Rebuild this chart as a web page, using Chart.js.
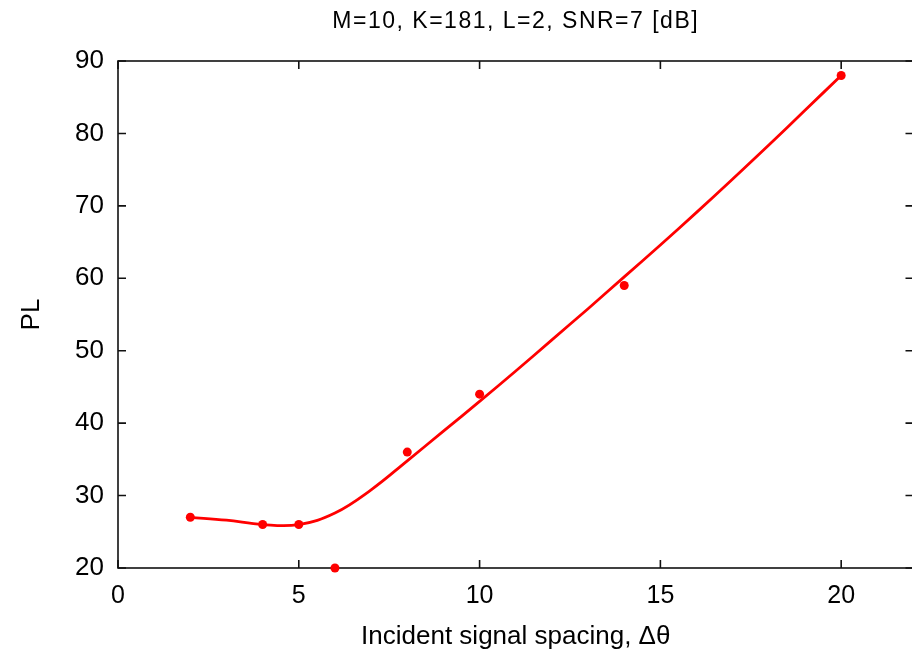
<!DOCTYPE html>
<html>
<head>
<meta charset="utf-8">
<script src="https://cdn.jsdelivr.net/npm/chart.js@4/dist/chart.umd.min.js"></script>
<style>
  html, body { margin: 0; padding: 0; background: #fff; overflow: hidden; }
  #wrap { width: 918px; height: 657px; }
</style>
</head>
<body>
<div id="wrap"><canvas id="plChart" width="918" height="657"></canvas></div>
<script>
// Measured points
const spacing = [2, 4, 5, 6, 8, 10, 14, 20];
const plValues = [27, 26, 26, 20, 36, 44, 59, 88];

// Smoothed curve
const fitX = [2, 3, 4, 5, 6, 7, 8, 9, 10, 11, 12, 13, 14, 15, 16, 17, 18, 19, 20];
const fitY = [27.0, 26.6, 26.0, 26.0, 27.6, 30.8, 34.8, 38.9, 43.0, 47.2, 51.5, 55.8, 60.2, 64.6, 69.1, 73.7, 78.4, 83.2, 88.0];

// Tick labels
const xTicks = [0, 5, 10, 15, 20];
const yTicks = [20, 30, 40, 50, 60, 70, 80, 90];

const titleText = 'M=10, K=181, L=2, SNR=7 [dB]';
const fontFamily = '"Liberation Sans", Arial, Helvetica, sans-serif';

// gnuplot style frame with inward ticks on all four sides
const framePlugin = {
    id: 'frame',
    beforeDatasetsDraw(chart) {
        const ctx = chart.ctx;
        const a = chart.chartArea;
        const tl = 8;
        ctx.save();
        ctx.strokeStyle = '#111';
        ctx.lineWidth = 1.6;
        ctx.strokeRect(a.left, a.top, a.right - a.left, a.bottom - a.top);
        ctx.beginPath();
        chart.scales.x.ticks.forEach(t => {
            const px = chart.scales.x.getPixelForValue(t.value);
            ctx.moveTo(px, a.bottom); ctx.lineTo(px, a.bottom - tl);
            ctx.moveTo(px, a.top); ctx.lineTo(px, a.top + tl);
        });
        chart.scales.y.ticks.forEach(t => {
            const py = chart.scales.y.getPixelForValue(t.value);
            ctx.moveTo(a.left, py); ctx.lineTo(a.left + tl, py);
            ctx.moveTo(a.right, py); ctx.lineTo(a.right - tl, py);
        });
        ctx.stroke();
        ctx.restore();
    },
    afterDraw(chart) {
        const ctx = chart.ctx;
        const a = chart.chartArea;
        ctx.save();
        ctx.fillStyle = '#000';
        ctx.font = '23px ' + fontFamily;
        ctx.letterSpacing = '1.5px';
        ctx.textAlign = 'center';
        ctx.textBaseline = 'middle';
        ctx.fillText(titleText, (a.left + a.right) / 2, 22);
        ctx.restore();
    }
};

const ctx = document.getElementById('plChart').getContext('2d');
new Chart(ctx, {
    type: 'scatter',
    data: {
        datasets: [{
            label: 'fit',
            data: fitX.map((x, i) => ({x: x, y: fitY[i]})),
            showLine: true,
            borderColor: '#ff0000',
            borderWidth: 2.8,
            pointRadius: 0,
            tension: 0.4,
            clip: false
        }, {
            label: 'PL',
            data: spacing.map((x, i) => ({x: x, y: plValues[i]})),
            showLine: false,
            backgroundColor: '#ff0000',
            borderColor: '#ff0000',
            pointRadius: 4.5,
            borderWidth: 0,
            clip: false
        }]
    },
    options: {
        responsive: false,
        animation: false,
        layout: { padding: { top: 61, right: 2, bottom: 0, left: 0 } },
        scales: {
            x: {
                type: 'linear',
                min: 0,
                max: 22,
                grid: { display: false, drawTicks: false },
                border: { display: false },
                afterBuildTicks: scale => { scale.ticks = xTicks.map(v => ({value: v})); },
                afterFit: scale => { scale.height = 89; },
                ticks: {
                    padding: 13,
                    color: '#000',
                    font: { family: fontFamily, size: 25 }
                },
                title: {
                    display: true,
                    text: 'Incident signal spacing, Δθ',
                    color: '#000',
                    font: { family: fontFamily, size: 26 },
                    padding: { top: 0, bottom: 5 }
                }
            },
            y: {
                min: 20,
                max: 90,
                grid: { display: false, drawTicks: false },
                border: { display: false },
                afterBuildTicks: scale => { scale.ticks = yTicks.map(v => ({value: v})); },
                afterFit: scale => { scale.width = 118; },
                ticks: {
                    padding: 14,
                    color: '#000',
                    font: { family: fontFamily, size: 26 }
                },
                title: {
                    display: true,
                    text: 'PL',
                    color: '#000',
                    font: { family: fontFamily, size: 26 },
                    padding: { top: 16, bottom: 0 }
                }
            }
        },
        plugins: {
            legend: { display: false },
            tooltip: { enabled: false }
        }
    },
    plugins: [framePlugin]
});
</script>
</body>
</html>
